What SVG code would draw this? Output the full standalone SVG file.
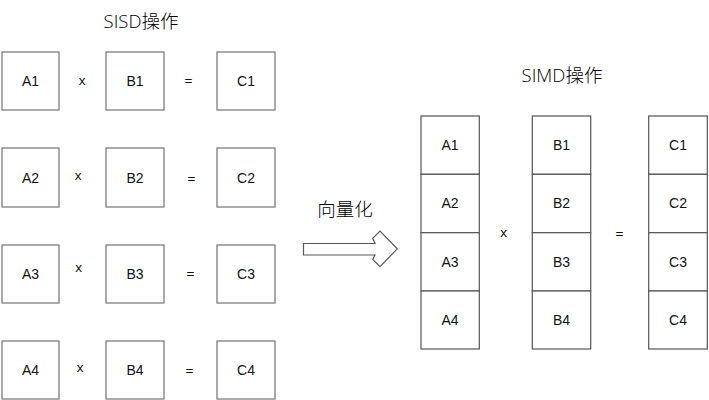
<svg xmlns="http://www.w3.org/2000/svg" width="709" height="400" viewBox="0 0 709 400">
<style>
text{font-family:"Liberation Sans","Noto Sans CJK SC",sans-serif;fill:#111;text-anchor:middle}
.lbl{font-size:14px}
.op{font-size:13.5px}
.title{font-size:18.5px;font-family:"Open Sans","Noto Sans CJK SC",sans-serif;font-weight:300;fill:#000}
.box{fill:#fff;stroke:#7f7f7f;stroke-width:1.3}
.cell{fill:#fff;stroke:#555;stroke-width:1.2}
.arrow{fill:#fff;stroke:#595959;stroke-width:1.2;stroke-linejoin:miter}
</style>
<rect width="709" height="400" fill="#fff"/>
<text class="title" x="141" y="28">SISD操作</text>
<text class="title" x="562" y="82">SIMD操作</text>
<text class="title" x="345" y="216">向量化</text>

<g id="sisd-row1">
<g id="A1s"><rect class="box" x="2" y="52" width="57" height="58"/><text class="lbl" x="30.5" y="86">A1</text></g>
<text class="op" x="82" y="85">x</text>
<g id="B1s"><rect class="box" x="106" y="52" width="58" height="58"/><text class="lbl" x="135" y="86">B1</text></g>
<text class="op" x="188.5" y="85">=</text>
<g id="C1s"><rect class="box" x="217" y="52" width="58" height="58"/><text class="lbl" x="246" y="86">C1</text></g>
</g>
<g id="sisd-row2">
<g id="A2s"><rect class="box" x="2" y="148" width="57" height="59"/><text class="lbl" x="30.5" y="182.5">A2</text></g>
<text class="op" x="78" y="180">x</text>
<g id="B2s"><rect class="box" x="106" y="148" width="58" height="59"/><text class="lbl" x="135" y="182.5">B2</text></g>
<text class="op" x="191.5" y="183">=</text>
<g id="C2s"><rect class="box" x="217" y="148" width="58" height="59"/><text class="lbl" x="246" y="182.5">C2</text></g>
</g>
<g id="sisd-row3">
<g id="A3s"><rect class="box" x="2" y="245" width="57" height="58"/><text class="lbl" x="30.5" y="279">A3</text></g>
<text class="op" x="78.5" y="272">x</text>
<g id="B3s"><rect class="box" x="106" y="245" width="58" height="58"/><text class="lbl" x="135" y="279">B3</text></g>
<text class="op" x="190.5" y="278">=</text>
<g id="C3s"><rect class="box" x="217" y="245" width="58" height="58"/><text class="lbl" x="246" y="279">C3</text></g>
</g>
<g id="sisd-row4">
<g id="A4s"><rect class="box" x="2" y="341" width="57" height="58"/><text class="lbl" x="30.5" y="375">A4</text></g>
<text class="op" x="80" y="372">x</text>
<g id="B4s"><rect class="box" x="106" y="341" width="58" height="58"/><text class="lbl" x="135" y="375">B4</text></g>
<text class="op" x="189.5" y="374.5">=</text>
<g id="C4s"><rect class="box" x="217" y="341" width="58" height="58"/><text class="lbl" x="246" y="375">C4</text></g>
</g>

<g id="connectors">
<polygon class="arrow" points="303.5,243.5 375,243.5 372.7,238.3 380,231 397.3,248.8 380,266.7 372.7,259.3 375,255 303.5,255"/>
</g>

<g id="simd-A">
<rect class="cell" x="421" y="116" width="58.3" height="58.3"/><text class="lbl" x="450" y="150">A1</text>
<rect class="cell" x="421" y="174.3" width="58.3" height="58.4"/><text class="lbl" x="450" y="208">A2</text>
<rect class="cell" x="421" y="232.7" width="58.3" height="58.3"/><text class="lbl" x="450" y="266.5">A3</text>
<rect class="cell" x="421" y="291" width="58.3" height="58"/><text class="lbl" x="450" y="325">A4</text>
</g>
<text class="op" x="503.5" y="237">x</text>
<g id="simd-B">
<rect class="cell" x="532.3" y="116" width="58.4" height="58.3"/><text class="lbl" x="561.5" y="150">B1</text>
<rect class="cell" x="532.3" y="174.3" width="58.4" height="58.4"/><text class="lbl" x="561.5" y="208">B2</text>
<rect class="cell" x="532.3" y="232.7" width="58.4" height="58.3"/><text class="lbl" x="561.5" y="266.5">B3</text>
<rect class="cell" x="532.3" y="291" width="58.4" height="58"/><text class="lbl" x="561.5" y="325">B4</text>
</g>
<text class="op" x="619.5" y="237.5">=</text>
<g id="simd-C">
<rect class="cell" x="648.7" y="116" width="58.6" height="58.3"/><text class="lbl" x="678" y="150">C1</text>
<rect class="cell" x="648.7" y="174.3" width="58.6" height="58.4"/><text class="lbl" x="678" y="208">C2</text>
<rect class="cell" x="648.7" y="232.7" width="58.6" height="58.3"/><text class="lbl" x="678" y="266.5">C3</text>
<rect class="cell" x="648.7" y="291" width="58.6" height="58"/><text class="lbl" x="678" y="325">C4</text>
</g>
</svg>
